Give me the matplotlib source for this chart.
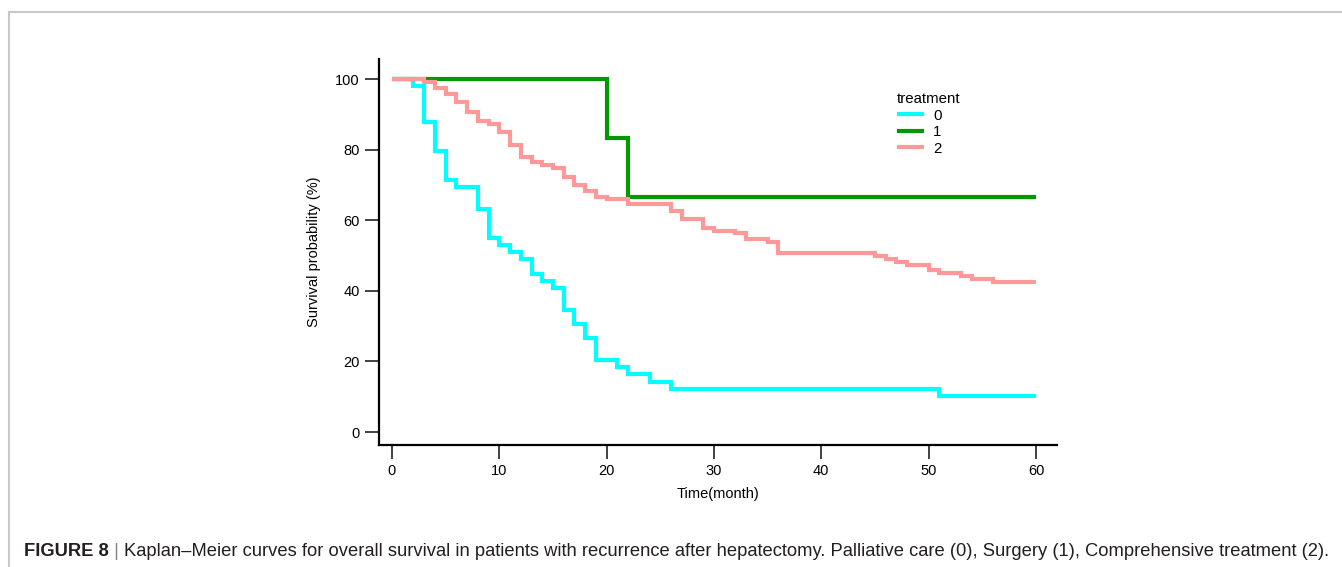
import matplotlib
matplotlib.use("Agg")
import matplotlib.pyplot as plt
from matplotlib.lines import Line2D

plt.rcParams['font.family'] = ['Liberation Sans', 'DejaVu Sans']

# ---- data ----
t0 = [0, 2, 3, 4, 5, 6, 8, 9, 10, 11, 12, 13, 14, 15, 16, 17, 18, 19, 21, 22, 24, 26, 51, 60]
s0 = [100, 98.0, 87.8, 79.6, 71.4, 69.4, 63.3, 55.1, 53.1, 51.0, 49.0, 44.9, 42.9, 40.8,
      34.7, 30.6, 26.5, 20.4, 18.4, 16.3, 14.3, 12.2, 10.2, 10.2]

t1 = [0, 20, 22, 60]
s1 = [100, 83.3, 66.7, 66.7]

t2 = [0, 3, 4, 5, 6, 7, 8, 9, 10, 11, 12, 13, 14, 15, 16, 17, 18, 19, 20, 22, 26, 27, 29,
      30, 32, 33, 35, 36, 45, 46, 47, 48, 50, 51, 53, 54, 56, 60]
s2 = [100, 99.1, 97.4, 95.7, 93.6, 90.6, 88.1, 87.3, 84.9, 81.3, 78.0, 76.4, 75.6, 74.7,
      72.3, 70.0, 68.3, 66.7, 65.9, 64.6, 62.7, 60.3, 57.7, 57.0, 56.3, 54.7, 53.9, 50.6,
      49.9, 49.0, 48.2, 47.3, 45.9, 45.0, 44.2, 43.3, 42.6, 42.6]

groups = ['0', '1', '2']
colors = ['#00FFFF', '#009900', '#FF9999']
xticks = [0, 10, 20, 30, 40, 50, 60]
yticks = [0, 20, 40, 60, 80, 100]

W, H = 1342, 567
fig = plt.figure(figsize=(W / 100, H / 100), dpi=100)
fig.patch.set_facecolor('white')

# frame lines of the figure panel
fig.add_artist(Line2D([9 / W, 1.0], [1 - 12 / H, 1 - 12 / H], color='#c8c8c8', lw=1.5))
fig.add_artist(Line2D([9 / W, 9 / W], [0.0, 1 - 12 / H], color='#c8c8c8', lw=1.5))

ax = fig.add_axes([379 / W, 1 - 445 / H, (1057 - 379) / W, (445 - 59) / H])
ax.set_facecolor('white')

for t, s, c, g in zip([t0, t1, t2], [s0, s1, s2], colors, groups):
    ax.step(t, s, where='post', color=c, lw=3.0, label=g,
            solid_joinstyle='miter', solid_capstyle='butt')

ax.set_xlim(-1.21, 61.96)
ax.set_ylim(-3.68, 105.67)
ax.set_xticks(xticks)
ax.set_yticks(yticks)
for sp in ['top', 'right']:
    ax.spines[sp].set_visible(False)
for sp in ['left', 'bottom']:
    ax.spines[sp].set_linewidth(1.6)
    ax.spines[sp].set_color('black')
ax.tick_params(axis='both', length=10, width=1.3, color='#333333', labelsize=10.5,
               labelcolor='black', direction='out')
ax.tick_params(axis='y', pad=4)
ax.tick_params(axis='x', pad=4)

ax.set_xlabel('Time(month)', fontsize=10.5, labelpad=6)
ax.set_ylabel('Survival probability (%)', fontsize=10.5, labelpad=10)

leg = ax.legend(title='treatment', loc='upper left', bbox_to_anchor=(512 / 678, 1 - 27 / 386),
                frameon=False, fontsize=10.8, title_fontsize=10.8, handlelength=1.8,
                handletextpad=0.6, labelspacing=0.17, alignment='left', borderaxespad=0)

# caption
cap = fig.text(24 / W, 1 - 556 / H, 'FIGURE 8', fontsize=13.2, fontweight='bold',
               color='#231f20', va='baseline', ha='left')
sep = plt.annotate(' | ', xy=(1, 0), xycoords=cap, va='bottom', ha='left',
                   fontsize=13.2, color='#888888', annotation_clip=False)
plt.annotate('Kaplan\u2013Meier curves for overall survival in patients with recurrence after '
             'hepatectomy. Palliative care (0), Surgery (1), Comprehensive treatment (2).',
             xy=(1, 0), xycoords=sep, va='bottom', ha='left', fontsize=13.2,
             color='#231f20', annotation_clip=False)

fig.savefig('out.png', dpi=100, facecolor='white')
